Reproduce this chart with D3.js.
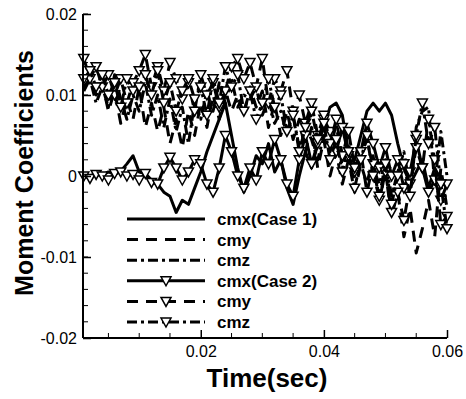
<!DOCTYPE html>
<html>
<head>
<meta charset="utf-8">
<script src="https://cdn.jsdelivr.net/npm/d3@7"></script>
<style>
  body { margin: 0; background: #fff; }
  svg { display: block; font-family: "Liberation Sans", Arial, sans-serif; }
</style>
</head>
<body>
<div id="chart"></div>
<script>
// time samples (sec)
var time = [0.001,0.002,0.003,0.004,0.005,0.006,0.007,0.008,0.009,0.010,
            0.011,0.012,0.013,0.014,0.015,0.016,0.017,0.018,0.019,0.020,
            0.021,0.022,0.023,0.024,0.025,0.026,0.027,0.028,0.029,0.030,
            0.031,0.032,0.033,0.034,0.035,0.036,0.037,0.038,0.039,0.040,
            0.041,0.042,0.043,0.044,0.045,0.046,0.047,0.048,0.049,0.050,
            0.051,0.052,0.053,0.054,0.055,0.056,0.057,0.058,0.059,0.060];

// moment coefficients, in units of 1e-3
var cmx1 = [0.1,0.0,0.3,0.1,0.5,0.2,0.6,1.5,2.5,0.5,
            0.3,-0.5,-1.0,-2.0,-2.5,-4.5,-3.0,-3.5,-1.5,0.5,
            3.0,5.0,7.0,9.0,5.0,1.0,-2.0,0.0,2.5,1.5,
            4.0,0.5,2.0,-1.5,-3.5,0.0,3.0,1.0,4.0,6.0,
            8.5,9.0,7.5,3.0,2.0,5.0,8.0,9.0,8.0,9.0,
            7.5,4.0,1.0,-1.0,0.5,2.0,-1.5,1.0,-0.5,-1.5];
var cmy1 = [11.0,12.0,10.0,11.5,8.0,10.5,6.5,9.5,7.0,11.0,
            6.0,9.0,5.5,8.5,4.0,7.0,3.5,8.0,5.0,9.0,
            6.0,10.0,7.0,10.5,8.0,10.0,7.5,11.0,8.5,10.5,
            6.0,9.0,5.0,8.0,4.5,7.0,3.0,6.0,1.0,4.5,
            0.0,3.0,-1.0,2.0,-2.0,1.5,-1.0,2.5,-3.0,0.5,
            -5.0,-2.0,-7.5,-4.0,-9.5,-6.5,-3.0,-7.5,1.0,-4.0];
var cmz1 = [10.5,12.0,9.0,11.0,8.5,12.5,9.5,7.0,10.0,8.0,
            11.5,7.5,10.0,6.0,9.5,5.5,8.5,4.0,9.0,7.0,
            10.5,8.0,11.5,9.0,12.0,8.5,10.0,9.5,11.0,7.5,
            9.5,6.5,8.0,5.0,7.5,3.5,6.0,4.5,2.0,5.0,
            3.0,6.5,1.0,4.0,0.0,2.5,4.5,1.0,-1.0,2.0,
            -2.5,0.5,3.0,-1.5,6.0,8.0,8.5,-1.0,5.5,0.0];
var cmx2 = [0.0,-0.3,0.2,0.0,-0.5,0.3,0.5,0.0,0.2,-0.5,
            0.3,-0.8,-1.0,1.0,2.3,1.0,-0.5,0.5,2.0,1.5,
            -1.0,-2.0,1.0,5.0,3.0,0.0,-1.5,1.0,-0.5,3.0,
            1.5,4.5,2.0,-1.0,-2.5,2.0,5.0,1.5,4.0,7.0,
            5.5,3.0,6.0,2.5,0.5,3.0,6.5,4.0,1.0,3.5,
            0.0,2.0,-1.5,0.5,4.5,1.0,-2.0,-0.5,-3.0,-1.0];
var cmy2 = [14.5,12.0,13.5,11.0,12.5,10.0,12.0,9.0,11.5,13.0,
            15.0,11.0,13.5,10.5,14.0,12.0,9.5,11.5,8.0,12.5,
            10.0,11.5,8.5,10.5,13.5,14.5,12.0,14.0,11.0,14.5,
            9.0,12.0,10.5,13.0,8.0,10.0,6.5,9.0,5.0,7.5,
            4.0,7.0,2.5,5.5,1.0,3.0,-2.0,1.5,-3.0,0.5,
            -4.5,-2.0,-5.5,-1.0,3.5,1.0,7.0,2.0,-6.0,-5.0];
var cmz2 = [12.0,13.0,11.0,12.5,10.0,11.5,8.5,12.0,10.5,11.0,
            12.5,10.0,13.0,9.0,11.5,8.0,10.5,12.0,9.5,11.0,
            7.5,12.0,9.0,13.5,11.0,12.5,8.0,10.5,7.0,9.0,
            12.0,8.5,10.0,5.5,7.5,3.0,6.0,8.0,4.5,6.5,
            2.0,4.5,0.5,3.0,-1.5,2.0,5.0,0.0,-2.5,1.5,
            -3.5,0.0,1.5,-2.5,5.0,9.0,4.0,6.0,-1.0,-6.5];

var legendLabels = ["cmx(Case 1)", "cmy", "cmz", "cmx(Case 2)", "cmy", "cmz"];
var xTicks = [0.02, 0.04, 0.06];
var yTicks = [-0.02, -0.01, 0, 0.01, 0.02];

var series = [
    { values: cmx1, dash: null, marker: false },
    { values: cmy1, dash: "11,8", marker: false },
    { values: cmz1, dash: "10,4,3,4", marker: false },
    { values: cmx2, dash: null, marker: true },
    { values: cmy2, dash: "11,8", marker: true },
    { values: cmz2, dash: "10,4,3,4", marker: true }
];

var width = 466, height = 399;
var svg = d3.select("#chart").append("svg")
    .attr("width", width)
    .attr("height", height);

var x = d3.scaleLinear().domain([0.00087, 0.06]).range([83, 447]);
var y = d3.scaleLinear().domain([-0.02, 0.02]).range([338, 14]);

var tri = "M-5,-4L5,-4L0,5Z";

var line = d3.line()
    .x(function(d){ return x(d.t); })
    .y(function(d){ return y(d.v); });

var plot = svg.append("g");
series.forEach(function(s){
    var pts = time.map(function(t, i){ return { t: t, v: s.values[i] / 1000 }; });
    plot.append("path")
        .datum(pts)
        .attr("fill", "none")
        .attr("stroke", "#000")
        .attr("stroke-width", 3)
        .attr("stroke-linejoin", "round")
        .attr("stroke-dasharray", s.dash)
        .attr("d", line);
    if (s.marker) {
        plot.selectAll(null)
            .data(pts)
            .enter().append("path")
            .attr("d", tri)
            .attr("transform", function(d){ return "translate(" + x(d.t) + "," + y(d.v) + ")"; })
            .attr("fill", "#fff")
            .attr("stroke", "#000")
            .attr("stroke-width", 1.5);
    }
});

// axes
var yAxis = d3.axisLeft(y).tickValues(yTicks).tickSize(-8).tickPadding(6)
    .tickFormat(function(d){ return d == 0 ? "0" : String(+d.toFixed(2)); });
var gy = svg.append("g").attr("transform", "translate(83,0)").call(yAxis);
gy.selectAll(".tick line").attr("stroke-width", 1.5);
gy.select(".domain").attr("stroke-width", 2).attr("d", "M0,14V338");
gy.selectAll("text").attr("font-size", 16).attr("fill", "#000");

var yMinor = d3.range(-0.02, 0.0201, 0.002);
svg.append("g").selectAll("line").data(yMinor).enter().append("line")
    .attr("x1", 83).attr("x2", 88)
    .attr("y1", function(d){ return y(d); }).attr("y2", function(d){ return y(d); })
    .attr("stroke", "#000").attr("stroke-width", 1);

var xAxis = d3.axisBottom(x).tickValues(xTicks).tickSize(-8).tickPadding(8)
    .tickFormat(d3.format(".2f"));
var gx = svg.append("g").attr("transform", "translate(0,338)").call(xAxis);
gx.selectAll(".tick line").attr("stroke-width", 1.5);
gx.select(".domain").attr("stroke-width", 2).attr("d", "M83,0H447");
gx.selectAll("text").attr("font-size", 16).attr("fill", "#000");

var xMinor = [0.005, 0.01, 0.015, 0.025, 0.03, 0.035, 0.045, 0.05, 0.055];
svg.append("g").selectAll("line").data(xMinor).enter().append("line")
    .attr("x1", function(d){ return x(d); }).attr("x2", function(d){ return x(d); })
    .attr("y1", 338).attr("y2", 333)
    .attr("stroke", "#000").attr("stroke-width", 1);

// axis titles
svg.append("text")
    .attr("x", 267).attr("y", 387)
    .attr("text-anchor", "middle")
    .attr("font-size", 26).attr("font-weight", "bold")
    .text("Time(sec)");

svg.append("text")
    .attr("transform", "translate(33,173) rotate(-90)")
    .attr("text-anchor", "middle")
    .attr("font-size", 25).attr("font-weight", "bold")
    .text("Moment Coefficients");

// legend
var legY = d3.scalePoint().domain(d3.range(6)).range([219, 322]);
var leg = svg.append("g");
series.forEach(function(s, i){
    var yy = legY(i);
    leg.append("line")
        .attr("x1", 127).attr("x2", 205)
        .attr("y1", yy).attr("y2", yy)
        .attr("stroke", "#000").attr("stroke-width", 3)
        .attr("stroke-dasharray", s.dash);
    if (s.marker) {
        leg.append("path").attr("d", tri)
            .attr("transform", "translate(166," + yy + ")")
            .attr("fill", "#fff").attr("stroke", "#000").attr("stroke-width", 1.5);
    }
    leg.append("text")
        .attr("x", 217).attr("y", yy + 6)
        .attr("font-size", 17).attr("font-weight", "bold")
        .text(legendLabels[i]);
});
</script>
</body>
</html>
